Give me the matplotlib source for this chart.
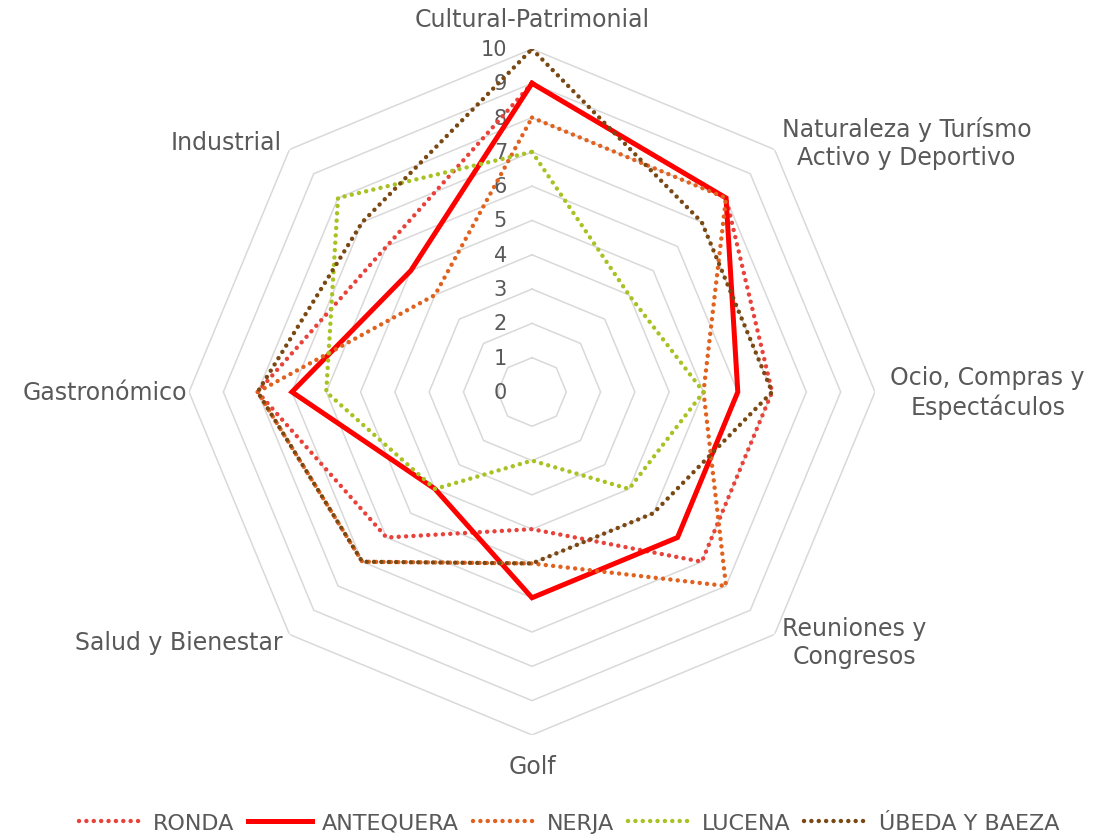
import numpy as np
import matplotlib.pyplot as plt

plt.rcParams['font.family'] = ['DejaVu Sans']

categories = ['Cultural-Patrimonial', 'Naturaleza y Turísmo\nActivo y Deportivo',
              'Ocio, Compras y\nEspectáculos', 'Reuniones y\nCongresos', 'Golf',
              'Salud y Bienestar', 'Gastronómico', 'Industrial']
ronda = [9, 8, 7, 7, 4, 6, 8, 6]
antequera = [9, 8, 6, 6, 6, 4, 7, 5]
nerja = [8, 8, 5, 8, 5, 7, 8, 4]
lucena = [7, 4, 5, 4, 2, 4, 6, 8]
ubeda = [10, 7, 7, 5, 5, 7, 8, 7]
levels = list(range(0, 11))

series = [
    ('RONDA', ronda, '#E8423A', 'dot'),
    ('ANTEQUERA', antequera, '#FF0000', 'solid'),
    ('NERJA', nerja, '#E0621E', 'dot'),
    ('LUCENA', lucena, '#A9C223', 'dot'),
    ('ÚBEDA Y BAEZA', ubeda, '#7A4812', 'dot'),
]

n = len(categories)
angles = np.arange(n) * 2 * np.pi / n
closed = np.append(angles, angles[0])

fig = plt.figure(figsize=(10.94, 8.37), dpi=100)
ax = fig.add_axes([0.1728, 0.1207, 0.627, 0.8196], projection='polar')
ax.set_theta_offset(np.pi / 2)
ax.set_theta_direction(-1)
ax.set_ylim(0, 10)
ax.grid(False)
ax.spines['polar'].set_visible(False)
ax.set_xticks([])
ax.set_yticks([])

# octagonal grid
for lv in levels[1:]:
    ax.plot(closed, [lv] * (n + 1), color='#D9D9D9', lw=1.1, zorder=1)

for lv in levels:
    ax.annotate(str(lv), xy=(0, lv), xytext=(-25, 0), textcoords='offset pixels',
                ha='right', va='center', fontsize=15, color='#595959', zorder=2)

for name, vals, col, style in series:
    v = np.append(vals, vals[0])
    if style == 'solid':
        ax.plot(closed, v, color=col, lw=3.6, label=name, zorder=3,
                solid_joinstyle='miter')
    else:
        ax.plot(closed, v, color=col, lw=3.2, label=name, zorder=3,
                linestyle=(0, (0.01, 1.65)), dash_capstyle='round')

label_pos = [(10.87, 'center', 'center'), (10.3, 'left', 'center'),
             (10.45, 'left', 'center'), (10.3, 'left', 'center'),
             (10.9, 'center', 'center'), (10.3, 'right', 'center'),
             (10.05, 'right', 'center'), (10.3, 'right', 'center')]
for a, lab, (r, ha, va) in zip(angles, categories, label_pos):
    ax.text(a, r, lab, ha=ha, va=va, fontsize=17, color='#595959',
            multialignment='center')

fig.legend(loc='lower center', bbox_to_anchor=(0.52, -0.02), ncol=5, frameon=False,
           fontsize=16, handlelength=2.9, handletextpad=0.45, columnspacing=0.6,
           labelcolor='#595959')

fig.savefig('out.png', dpi=100)
